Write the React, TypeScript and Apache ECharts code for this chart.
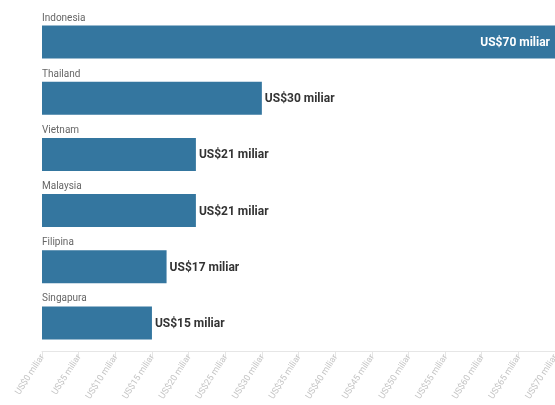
import React, { useEffect, useRef } from "react";
import * as echarts from "echarts";

const countries = ["Indonesia", "Thailand", "Vietnam", "Malaysia", "Filipina", "Singapura"];
const values = [70, 30, 21, 21, 17, 15];
const xTicks = { min: 0, max: 70, interval: 5 };

const FONT = "Roboto, 'Liberation Sans', sans-serif";

export default function App() {
  const ref = useRef<HTMLDivElement>(null);
  useEffect(() => {
    if (!ref.current) return;
    const chart = echarts.init(ref.current, undefined, { renderer: "svg" });
    chart.setOption({
      animation: false,
      grid: {
        left: 42,
        width: 513,
        top: 14,
        bottom: 54,
        containLabel: false,
        outerBoundsMode: "none",
      },
      xAxis: {
        type: "value",
        min: xTicks.min,
        max: xTicks.max,
        interval: xTicks.interval,
        splitLine: { show: false },
        axisLine: { show: true, lineStyle: { color: "#e6e6e6" } },
        axisTick: { show: true, length: 6, lineStyle: { color: "#e6e6e6" } },
        axisLabel: {
          rotate: 57,
          color: "#c4c4c4",
          fontSize: 9,
          fontFamily: FONT,
          margin: 4,
          showMaxLabel: true,
          formatter: (v: number) => "US$" + v + " miliar",
        },
      },
      yAxis: {
        type: "category",
        data: countries,
        inverse: true,
        axisLine: { show: false },
        axisTick: { show: false },
        splitLine: { show: false },
        axisLabel: {
          inside: true,
          margin: 0,
          align: "left",
          verticalAlign: "bottom",
          color: "#666",
          fontSize: 10,
          lineHeight: 12,
          fontFamily: FONT,
          padding: [0, 0, 19, 0],
        },
      },
      series: [
        {
          type: "bar",
          barWidth: 33,
          itemStyle: { color: "#34769f" },
          data: values.map((v, i) =>
            i === 0
              ? {
                  value: v,
                  label: { position: "insideRight", color: "#fff", distance: 5 },
                }
              : v
          ),
          label: {
            show: true,
            position: "right",
            distance: 3,
            color: "#333",
            fontWeight: "bold",
            fontSize: 12,
            fontFamily: FONT,
            formatter: (p: any) => "US$" + p.value + " miliar",
          },
        },
      ],
    });
    return () => chart.dispose();
  }, []);
  return (
    <div
      ref={ref}
      style={{ position: "fixed", left: 0, top: 0, width: 555, height: 405 }}
    />
  );
}
